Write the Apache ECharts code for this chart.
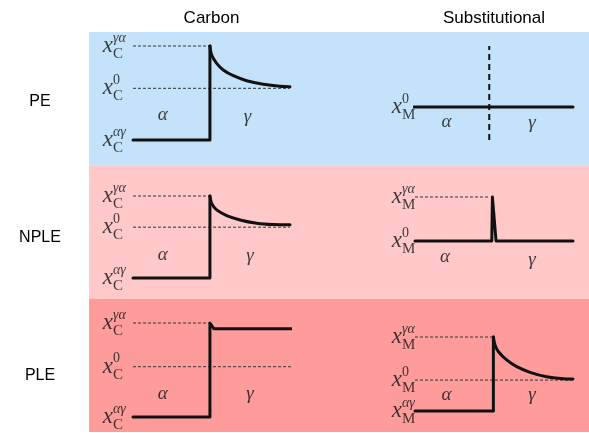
<!DOCTYPE html>
<html><head><meta charset="utf-8">
<script src="https://cdn.jsdelivr.net/npm/echarts@6/dist/echarts.min.js"></script>
<style>html,body{margin:0;padding:0;background:#fff}#c{width:589px;height:433px}</style>
</head><body><div id="c"></div>
<script>
// ---- chart content ----
const rows = ['PE', 'NPLE', 'PLE'];
const rowColors = ['#c4e2f9', '#ffc9c9', '#fe9c9b'];
const columns = ['Carbon', 'Substitutional'];
const phases = ['α', 'γ'];
const levelKeys = ['γα', '0', 'αγ'];   // superscripts of x^γα, x^0, x^αγ

// positions across each panel: 0..100, interface near 49; concentrations: relative units
// Carbon – PE
const cPE_levels = [100, 55, 0];
const cPE_dashEnds = [49, 100, null];
const cPE_stepX = [0, 49, 49];
const cPE_stepY = [0, 0, 100];
const cPE_curveX = [49, 50.1, 53.3, 57.5, 63.9, 72.4, 83.0, 93.6, 100];
const cPE_curveY = [100, 90.4, 81.6, 74.5, 68.4, 63.1, 59.3, 57.1, 56.7];
// Carbon – NPLE
const cNPLE_levels = [100, 62, 0];
const cNPLE_dashEnds = [49, 100, null];
const cNPLE_stepX = [0, 49, 49];
const cNPLE_stepY = [0, 0, 100];
const cNPLE_curveX = [49, 50.1, 53.3, 59.7, 68.2, 78.8, 89.4, 100];
const cNPLE_curveY = [100, 91.1, 83.0, 76.1, 70.8, 66.8, 65.1, 64.8];
// Carbon – PLE
const cPLE_levels = [100, 53.5, 0];
const cPLE_dashEnds = [49, 101, null];
const cPLE_profX = [0, 49, 49, 51.5, 101];
const cPLE_profY = [0, 0, 100, 94, 94];
// Substitutional – PE
const sPE_levels = [null, 35, null];
const sPE_dashEnds = [null, null, null];
const sPE_profX = [-1, 100];
const sPE_profY = [35, 35];
const sPE_interfaceX = [47, 47];
const sPE_interfaceY = [0, 100];
// Substitutional – NPLE
const sNPLE_levels = [100, 0, null];
const sNPLE_dashEnds = [47.5, null, null];
const sNPLE_profX = [0, 48.6, 49, 51.3, 100];
const sNPLE_profY = [0, 0, 100, 0, 0];
// Substitutional – PLE
const sPLE_levels = [100, 41.8, 0];
const sPLE_dashEnds = [49.6, 103, null];
const sPLE_stepX = [0, 49.6, 49.6];
const sPLE_stepY = [0, 0, 100];
const sPLE_curveX = [49.6, 50.6, 52.7, 58.0, 64.4, 72.8, 83.4, 93.9, 100];
const sPLE_curveY = [100, 89.5, 80.4, 69.1, 59.9, 52.3, 46.3, 43.6, 43.2];

// ---- layout ----
const zip = (a, b) => a.map((v, i) => [v, b[i]]);
const panels = [
  {grid:{left:133, top:46, width:157, height:94}, species:'C', gap:20, levels:cPE_levels, dashEnds:cPE_dashEnds,
   segs:[{d:zip(cPE_stepX,cPE_stepY)},{d:zip(cPE_curveX,cPE_curveY),smooth:true}], phasePos:[[19,27],[73,25]], header:columns[0]},
  {grid:{left:133, top:196, width:157, height:82}, species:'C', gap:20, levels:cNPLE_levels, dashEnds:cNPLE_dashEnds,
   segs:[{d:zip(cNPLE_stepX,cNPLE_stepY)},{d:zip(cNPLE_curveX,cNPLE_curveY),smooth:true}], phasePos:[[19,28],[74.5,27]]},
  {grid:{left:133, top:323, width:157, height:94}, species:'C', gap:20, levels:cPLE_levels, dashEnds:cPLE_dashEnds,
   segs:[{d:zip(cPLE_profX,cPLE_profY)}], phasePos:[[19,24],[74.5,24]]},
  {grid:{left:415, top:46, width:158, height:94}, species:'M', gap:13, levels:sPE_levels, dashEnds:sPE_dashEnds,
   segs:[{d:zip(sPE_profX,sPE_profY)}], vdash:zip(sPE_interfaceX,sPE_interfaceY), phasePos:[[20,19],[74,18]], header:columns[1]},
  {grid:{left:415, top:197, width:158, height:44}, species:'M', gap:13, levels:sNPLE_levels, dashEnds:sNPLE_dashEnds,
   segs:[{d:zip(sNPLE_profX,sNPLE_profY)}], phasePos:[[19,-36],[74,-43]]},
  {grid:{left:415, top:337, width:158, height:74}, species:'M', gap:13, levels:sPLE_levels, dashEnds:sPLE_dashEnds,
   segs:[{d:zip(sPLE_stepX,sPLE_stepY)},{d:zip(sPLE_curveX,sPLE_curveY),smooth:true}], phasePos:[[20,21],[74,21]]}
];
const rowLabelShift = [6, 12, 20];   // top padding of the row labels

const ink = '#111';
const serif = 'Liberation Serif';
const grid = [], xAxis = [], yAxis = [], series = [];

// background bands (rows)
const rich = {};
rowLabelShift.forEach((p, i) => rich['r' + i] = {fontFamily:'Liberation Sans', fontSize:16, color:'#000', padding:[p, 0, 0, 0]});
grid.push({left:89, right:0, top:32, bottom:1});
xAxis.push({type:'value', gridIndex:0, min:0, max:1, show:false});
yAxis.push({type:'category', gridIndex:0, data:rows, inverse:true,
  axisLine:{show:false}, axisTick:{show:false},
  axisLabel:{show:true, align:'center', margin:49, formatter:(v, i) => '{r' + i + '|' + v + '}', rich}});
series.push({type:'bar', xAxisIndex:0, yAxisIndex:0, barWidth:'100%', barCategoryGap:'0%', silent:true,
  data: rows.map((r, i) => ({value:1, itemStyle:{color:rowColors[i]}}))});

panels.forEach((p, k) => {
  const gi = k + 1;
  grid.push(p.grid);
  const xa = {type:'value', gridIndex:gi, min:0, max:100, show:false};
  if (p.header) {
    Object.assign(xa, {show:true, position:'top', name:p.header, nameLocation:'middle', nameGap:19,
      nameTextStyle:{fontFamily:'Liberation Sans', fontSize:17, color:'#000'},
      axisLine:{show:false}, axisTick:{show:false}, axisLabel:{show:false}, splitLine:{show:false}});
  }
  xAxis.push(xa);
  yAxis.push({type:'value', gridIndex:gi, min:0, max:100, show:false});
  const base = {xAxisIndex:gi, yAxisIndex:gi, symbol:'none', clip:false, silent:true, z:3};
  // dashed reference levels
  p.levels.forEach((lv, j) => {
    if (lv === null || p.dashEnds[j] === null) return;
    series.push(Object.assign({type:'line', data:[[0, lv], [p.dashEnds[j], lv]],
      lineStyle:{color:'#333', width:1, type:[3, 2]}}, base));
  });
  if (p.vdash) series.push(Object.assign({type:'line', data:p.vdash,
      lineStyle:{color:ink, width:2, type:[6, 4]}}, base));
  // profiles
  p.segs.forEach(s => series.push(Object.assign({type:'line', data:s.d, smooth:s.smooth ? 0.3 : false,
      lineStyle:{color:ink, width:3, cap:'round', join:'round'}}, base)));
  // level labels x_{C/M}^{...}
  const lab = [];
  p.levels.forEach((lv, j) => {
    if (lv === null) return;
    const g = p.gap;
    lab.push({value:[0, lv], label:{formatter:'x', position:[-g + 1, 1], align:'right', verticalAlign:'middle',
      fontFamily:serif, fontStyle:'italic', fontSize:23, color:ink}});
    lab.push({value:[0, lv], label:{formatter:levelKeys[j], position:[-g + 1, -7], align:'left', verticalAlign:'middle',
      fontFamily:serif, fontStyle: levelKeys[j] === '0' ? 'normal' : 'italic', fontSize:14, color:ink}});
    lab.push({value:[0, lv], label:{formatter:p.species, position:[-g + 1, 9], align:'left', verticalAlign:'middle',
      fontFamily:serif, fontSize:15, color:ink}});
  });
  // phase labels
  p.phasePos.forEach((pos, j) => lab.push({value:pos, label:{formatter:phases[j], position:'inside',
      align:'center', verticalAlign:'middle', fontFamily:serif, fontStyle:'italic', fontSize:19, color:ink}}));
  series.push({type:'scatter', xAxisIndex:gi, yAxisIndex:gi, symbolSize:2, itemStyle:{color:'rgba(0,0,0,0)'},
    silent:true, clip:false, z:4, label:{show:true}, data:lab});
});

const chart = echarts.init(document.getElementById('c'), null, {renderer:'canvas'});
chart.setOption({animation:false, grid, xAxis, yAxis, series});
</script></body></html>
